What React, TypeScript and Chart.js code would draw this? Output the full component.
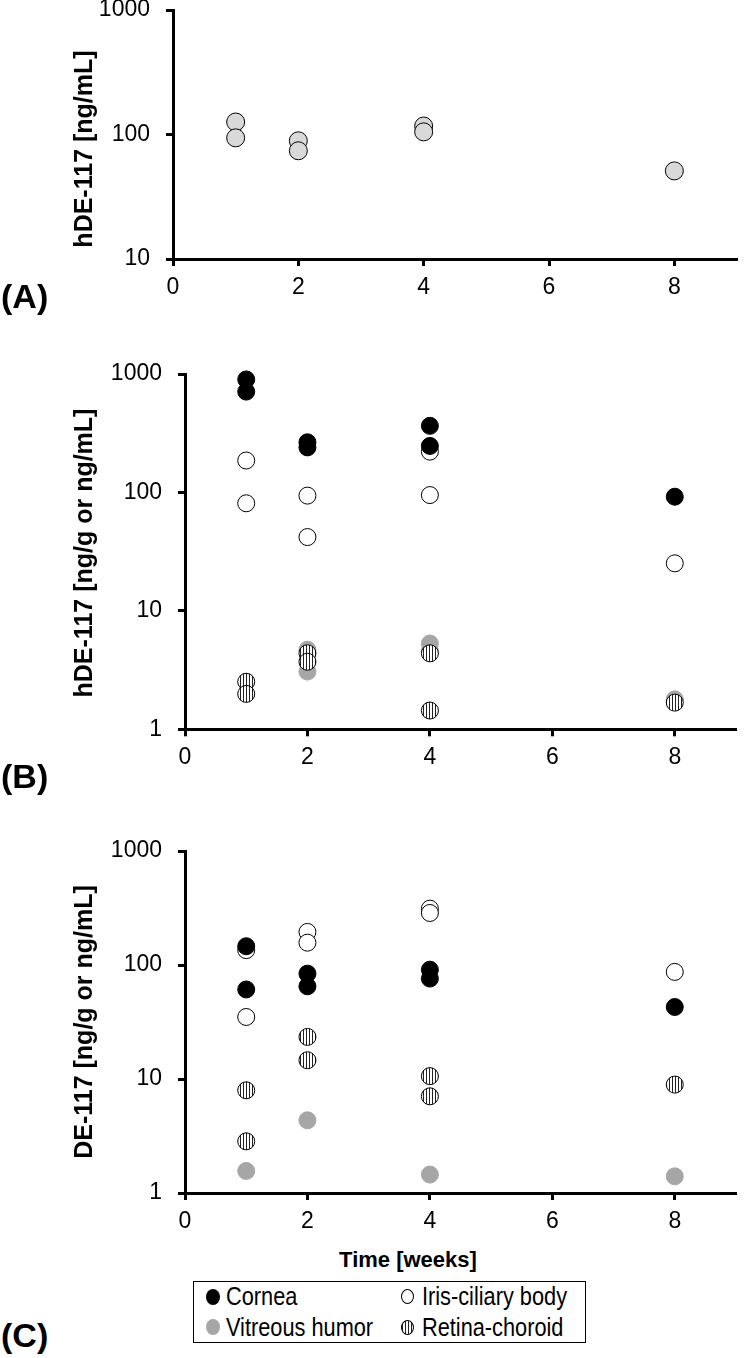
import React, { useEffect, useRef } from "react";
import { Chart, registerables } from "chart.js";

Chart.register(...registerables);

// ---------- data ----------
const xTicks = [0, 2, 4, 6, 8];
const yTicksA = [10, 100, 1000];
const yTicksBC = [1, 10, 100, 1000];

// (A) plasma
const aWeeks = [1, 1, 2, 2, 4, 4, 8];
const aValues = [126, 94, 89, 74, 117, 105, 51];

// (B) hDE-117 in ocular tissues
const bCorneaWeeks = [1, 1, 2, 2, 4, 4, 8];
const bCornea = [900, 710, 265, 240, 365, 247, 92];
const bIrisWeeks = [1, 1, 2, 2, 4, 4, 8];
const bIris = [186, 81, 94, 42, 221, 95, 25.2];
const bVitreousWeeks = [2, 2, 4, 4, 8];
const bVitreous = [4.7, 3.07, 5.3, 4.6, 1.79];
const bRetinaWeeks = [1, 1, 2, 2, 4, 4, 8];
const bRetina = [2.52, 1.99, 4.38, 3.72, 4.38, 1.44, 1.68];

// (C) DE-117 in ocular tissues
const cCorneaWeeks = [1, 1, 2, 2, 4, 4, 8];
const cCornea = [146, 61, 84, 65, 91, 76, 42.8];
const cIrisWeeks = [1, 1, 2, 2, 4, 4, 8];
const cIris = [135, 35, 195, 157, 312, 286, 87];
const cVitreousWeeks = [1, 2, 4, 8];
const cVitreous = [1.56, 4.34, 1.45, 1.4];
const cRetinaWeeks = [1, 1, 2, 2, 4, 4, 8];
const cRetina = [7.96, 2.84, 23.4, 14.6, 10.6, 7.05, 8.93];

const legendLabels = ["Cornea", "Iris-ciliary body", "Vitreous humor", "Retina-choroid"];

// ---------- styles ----------
const FONT = '"Liberation Sans", Arial, Helvetica, sans-serif';
const W = 747;

function pts(xs: number[], ys: number[]) {
  return xs.map((x, i) => ({ x, y: ys[i] }));
}

function stripePattern(): any {
  const c = document.createElement("canvas");
  c.width = 3;
  c.height = 3;
  const g = c.getContext("2d")!;
  g.fillStyle = "#ffffff";
  g.fillRect(0, 0, 3, 3);
  g.fillStyle = "#222222";
  g.fillRect(0, 0, 1, 3);
  return g.createPattern(c, "repeat");
}

type Panel = {
  top: number;
  bottom: number;
  left: number;
  right: number;
  yMin: number;
  yTicks: number[];
  datasets: (pattern: any) => any[];
};

function ChartPanel({ p }: { p: Panel }) {
  const ref = useRef<HTMLCanvasElement | null>(null);
  const canvasTop = p.top - 30;
  const xH = 45;
  const canvasH = Math.ceil(p.bottom - canvasTop + xH);
  const padBottom = canvasH - xH - (p.bottom - canvasTop);

  useEffect(() => {
    const pattern = stripePattern();
    const tickFont = { family: FONT, size: 23 };
    const chart = new Chart(ref.current!, {
      type: "scatter",
      data: { datasets: p.datasets(pattern) },
      options: {
        animation: false,
        responsive: false,
        events: [],
        layout: {
          padding: { top: 30, left: 0, right: W - p.right, bottom: padBottom },
        },
        plugins: { legend: { display: false }, tooltip: { enabled: false } },
        scales: {
          x: {
            type: "linear",
            min: 0,
            max: 9,
            afterBuildTicks: (s: any) => {
              s.ticks = xTicks.map((v) => ({ value: v }));
            },
            afterFit: (s: any) => {
              s.height = xH;
            },
            ticks: {
              font: tickFont,
              color: "#000",
              padding: 8,
              maxRotation: 0,
              autoSkip: false,
            },
            grid: {
              drawOnChartArea: false,
              drawTicks: true,
              tickLength: 7,
              tickWidth: 3,
              tickColor: "#000",
            },
            border: { display: true, color: "#000", width: 3 },
          },
          y: {
            type: "logarithmic",
            min: p.yMin,
            max: 1000,
            afterBuildTicks: (s: any) => {
              s.ticks = p.yTicks.map((v) => ({ value: v }));
            },
            afterFit: (s: any) => {
              s.width = p.left;
            },
            ticks: {
              font: tickFont,
              color: "#000",
              padding: 16,
              autoSkip: false,
              callback: (v: any) => String(v),
            },
            grid: {
              drawOnChartArea: false,
              drawTicks: true,
              tickLength: 7,
              tickWidth: 3,
              tickColor: "#000",
            },
            border: { display: true, color: "#000", width: 3 },
          },
        },
      } as any,
    });
    return () => chart.destroy();
  }, []);

  return (
    <canvas
      ref={ref}
      width={W}
      height={canvasH}
      style={{ position: "absolute", left: 0, top: canvasTop, width: W, height: canvasH }}
    />
  );
}

const ptStyle = { pointRadius: 8.5, pointBorderWidth: 1, pointStyle: "circle", clip: false };

function tissueSets(
  cw: number[], cv: number[], iw: number[], iv: number[],
  vw: number[], vv: number[], rw: number[], rv: number[]
) {
  return (pattern: any) => [
    { label: legendLabels[0], data: pts(cw, cv), ...ptStyle, pointBackgroundColor: "#000", pointBorderColor: "#000" },
    { label: legendLabels[3], data: pts(rw, rv), ...ptStyle, pointBackgroundColor: pattern, pointBorderColor: "#000" },
    { label: legendLabels[1], data: pts(iw, iv), ...ptStyle, pointBackgroundColor: "#fff", pointBorderColor: "#000" },
    { label: legendLabels[2], data: pts(vw, vv), ...ptStyle, pointBackgroundColor: "#a6a6a6", pointBorderColor: "#a6a6a6" },
  ];
}

const panelA: Panel = {
  top: 10, bottom: 259, left: 173, right: 745.6, yMin: 10, yTicks: yTicksA,
  datasets: () => [
    { label: "hDE-117", data: pts(aWeeks, aValues), ...ptStyle, pointRadius: 9, pointBackgroundColor: "#d9d9d9", pointBorderColor: "#000" },
  ],
};
const panelB: Panel = {
  top: 374, bottom: 729.3, left: 185, right: 736, yMin: 1, yTicks: yTicksBC,
  datasets: tissueSets(bCorneaWeeks, bCornea, bIrisWeeks, bIris, bVitreousWeeks, bVitreous, bRetinaWeeks, bRetina),
};
const panelC: Panel = {
  top: 850.7, bottom: 1192.7, left: 185, right: 736, yMin: 1, yTicks: yTicksBC,
  datasets: tissueSets(cCorneaWeeks, cCornea, cIrisWeeks, cIris, cVitreousWeeks, cVitreous, cRetinaWeeks, cRetina),
};

function YTitle({ text, cx, cy }: { text: string; cx: number; cy: number }) {
  return (
    <div
      style={{
        position: "absolute",
        left: cx,
        top: cy,
        transform: "translate(-50%, -50%) rotate(-90deg)",
        font: `bold 25px ${FONT}`,
        lineHeight: "25px",
        whiteSpace: "nowrap",
        color: "#000",
      }}
    >
      {text}
    </div>
  );
}

function PanelLabel({ text, top }: { text: string; top: number }) {
  return (
    <div
      style={{
        position: "absolute",
        left: 1,
        top,
        font: `bold 34px ${FONT}`,
        lineHeight: "34px",
        whiteSpace: "nowrap",
        color: "#000",
      }}
    >
      {text}
    </div>
  );
}

function Marker({ kind, cx, cy }: { kind: number; cx: number; cy: number }) {
  const base: any = { position: "absolute", borderRadius: "50%", boxSizing: "border-box" };
  let st: any;
  if (kind === 0) st = { width: 14, height: 16, background: "#000" };
  else if (kind === 1) st = { width: 13, height: 15, background: "#fff", border: "1px solid #000" };
  else if (kind === 2) st = { width: 14, height: 16, background: "#a6a6a6" };
  else
    st = {
      width: 13,
      height: 15,
      border: "1px solid #000",
      background: "repeating-linear-gradient(90deg, #222 0px, #222 1px, #fff 1px, #fff 3px)",
    };
  return <div style={{ ...base, ...st, left: cx - st.width / 2, top: cy - st.height / 2 }} />;
}

function Legend() {
  const items = [
    { kind: 0, text: legendLabels[0], mx: 213, tx: 226, cy: 1296.5 },
    { kind: 1, text: legendLabels[1], mx: 407, tx: 421.5, cy: 1296.5 },
    { kind: 2, text: legendLabels[2], mx: 213, tx: 226, cy: 1327 },
    { kind: 3, text: legendLabels[3], mx: 407, tx: 421.5, cy: 1327 },
  ];
  return (
    <>
      <div
        style={{
          position: "absolute",
          left: 192.5,
          top: 1280.5,
          width: 393.5,
          height: 62,
          border: "1.5px solid #000",
          boxSizing: "border-box",
        }}
      />
      {items.map((it, i) => (
        <React.Fragment key={i}>
          <Marker kind={it.kind} cx={it.mx} cy={it.cy} />
          <div
            style={{
              position: "absolute",
              left: it.tx,
              top: it.cy - 12.5,
              font: `25px ${FONT}`,
              lineHeight: "25px",
              whiteSpace: "nowrap",
              color: "#000",
              transform: "scaleX(0.87)",
              transformOrigin: "0 50%",
            }}
          >
            {it.text}
          </div>
        </React.Fragment>
      ))}
    </>
  );
}

export default function App() {
  return (
    <div
      style={{
        position: "absolute",
        left: 0,
        top: 0,
        width: W,
        height: 1358,
        overflow: "hidden",
        background: "#fff",
      }}
    >
      <ChartPanel p={panelA} />
      <ChartPanel p={panelB} />
      <ChartPanel p={panelC} />
      <YTitle text="hDE-117 [ng/mL]" cx={83} cy={148.5} />
      <YTitle text="hDE-117 [ng/g or ng/mL]" cx={83} cy={552.5} />
      <YTitle text="DE-117 [ng/g or ng/mL]" cx={83} cy={1021.5} />
      <PanelLabel text="(A)" top={278.5} />
      <PanelLabel text="(B)" top={758.5} />
      <PanelLabel text="(C)" top={1317.5} />
      <div
        style={{
          position: "absolute",
          left: 408,
          top: 1260 - 11,
          transform: "translateX(-50%)",
          font: `bold 22px ${FONT}`,
          lineHeight: "22px",
          whiteSpace: "nowrap",
          color: "#000",
        }}
      >
        Time [weeks]
      </div>
      <Legend />
    </div>
  );
}
